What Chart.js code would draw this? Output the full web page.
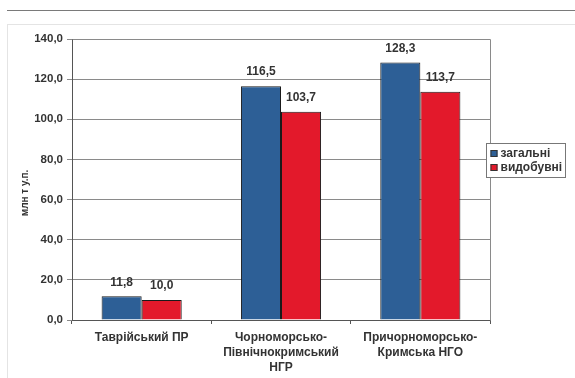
<!DOCTYPE html>
<html>
<head>
<meta charset="utf-8">
<script src="https://cdn.jsdelivr.net/npm/chart.js@4/dist/chart.umd.min.js"></script>
<style>
  html, body { margin: 0; padding: 0; background: #fff; }
  #wrap { width: 575px; height: 378px; position: relative; }
</style>
</head>
<body>
<div id="wrap"><canvas id="c" width="575" height="378"></canvas></div>
<script>
// Resource estimates by oil and gas region
const categories = [
  ['Таврійський ПР'],
  ['Чорноморсько-', 'Північнокримський', 'НГР'],
  ['Причорноморсько-', 'Кримська НГО']
];
const totalValues = [11.8, 116.5, 128.3];        // загальні
const extractableValues = [10.0, 103.7, 113.7];  // видобувні
const seriesNames = ['загальні', 'видобувні'];
const yTitle = 'млн т у.п.';

const BLUE = '#2d5f96';
const RED = '#e3192b';
const FONT = '"Liberation Sans", Arial, sans-serif';

const fmt = v => v.toFixed(1).replace('.', ',');

// Page frame lines, axis title, plot border, value labels and the boxed legend
const decor = {
  id: 'decor',
  beforeDraw(chart) {
    const ctx = chart.ctx;
    ctx.save();
    ctx.fillStyle = '#fff';
    ctx.fillRect(0, 0, chart.width, chart.height);
    ctx.strokeStyle = '#7a7a7a';
    ctx.lineWidth = 1;
    ctx.beginPath(); ctx.moveTo(7, 10.5); ctx.lineTo(575, 10.5); ctx.stroke();
    ctx.strokeStyle = '#e4e4e4';
    ctx.beginPath(); ctx.moveTo(7, 24.5); ctx.lineTo(575, 24.5); ctx.stroke();
    ctx.beginPath(); ctx.moveTo(7.5, 24.5); ctx.lineTo(7.5, 378); ctx.stroke();

    // rotated y-axis title
    ctx.translate(25, 193);
    ctx.rotate(-Math.PI / 2);
    ctx.font = 'bold 10px ' + FONT;
    ctx.fillStyle = '#333';
    ctx.textAlign = 'center';
    ctx.textBaseline = 'middle';
    ctx.fillText(yTitle, 0, 0);
    ctx.restore();
  },
  afterDatasetsDraw(chart) {
    const ctx = chart.ctx;
    const a = chart.chartArea;
    ctx.save();
    // top and right plot border
    ctx.strokeStyle = '#8a8a8a';
    ctx.lineWidth = 1;
    ctx.beginPath();
    ctx.moveTo(Math.round(a.left) + 0.5, Math.round(a.top) + 0.5);
    ctx.lineTo(Math.round(a.right) + 0.5, Math.round(a.top) + 0.5);
    ctx.lineTo(Math.round(a.right) + 0.5, Math.round(a.bottom) + 0.5);
    ctx.stroke();

    // value labels above bars
    ctx.font = 'bold 12px ' + FONT;
    ctx.fillStyle = '#333';
    ctx.textAlign = 'center';
    ctx.textBaseline = 'bottom';
    chart.data.datasets.forEach((ds, i) => {
      chart.getDatasetMeta(i).data.forEach((bar, j) => {
        ctx.fillText(fmt(ds.data[j]), bar.x, bar.y - 8);
      });
    });

    // legend box
    const lx = 486.5, ly = 143.5, lw = 79, lh = 34;
    ctx.fillStyle = '#fff';
    ctx.fillRect(lx, ly, lw, lh);
    ctx.strokeStyle = '#777';
    ctx.strokeRect(lx, ly, lw, lh);
    ctx.textAlign = 'left';
    ctx.textBaseline = 'middle';
    chart.data.datasets.forEach((ds, i) => {
      const cy = ly + 10 + i * 14;
      ctx.fillStyle = ds.backgroundColor;
      ctx.fillRect(lx + 4, cy - 3.5, 7, 7);
      ctx.strokeStyle = '#333';
      ctx.strokeRect(lx + 4.5, cy - 3, 6, 6);
      ctx.fillStyle = '#333';
      ctx.fillText(ds.label, lx + 14, cy + 0.5);
    });
    ctx.restore();
  }
};

new Chart(document.getElementById('c'), {
  type: 'bar',
  data: {
    labels: categories,
    datasets: [
      { label: seriesNames[0], data: totalValues, backgroundColor: BLUE,
        borderColor: '#1a1a1a', borderWidth: 1, categoryPercentage: 0.575, barPercentage: 1.0 },
      { label: seriesNames[1], data: extractableValues, backgroundColor: RED,
        borderColor: '#1a1a1a', borderWidth: 1, categoryPercentage: 0.575, barPercentage: 1.0 }
    ]
  },
  options: {
    responsive: false,
    animation: false,
    devicePixelRatio: 1,
    layout: { padding: { top: 39, right: 85, bottom: 0, left: 0 } },
    plugins: { legend: { display: false }, tooltip: { enabled: false } },
    scales: {
      x: {
        offset: true,
        grid: { display: true, drawOnChartArea: false, drawTicks: true, tickLength: 4, color: '#555', offset: true },
        border: { color: '#555', width: 1 },
        ticks: { color: '#333', font: { family: FONT, size: 12, weight: 'bold', lineHeight: 1.25 }, padding: 6, maxRotation: 0, autoSkip: false },
        afterFit(scale) { scale.height = 58; }
      },
      y: {
        min: 0, max: 140,
        ticks: { stepSize: 20, color: '#333', padding: 4,
          font: { family: FONT, size: 11.5, weight: 'bold' },
          callback: v => fmt(v) },
        grid: { color: '#8a8a8a', lineWidth: 1, tickLength: 5, drawTicks: true },
        border: { color: '#555', width: 1 },
        afterFit(scale) { scale.width = 72; }
      }
    }
  },
  plugins: [decor]
});
</script>
</body>
</html>
